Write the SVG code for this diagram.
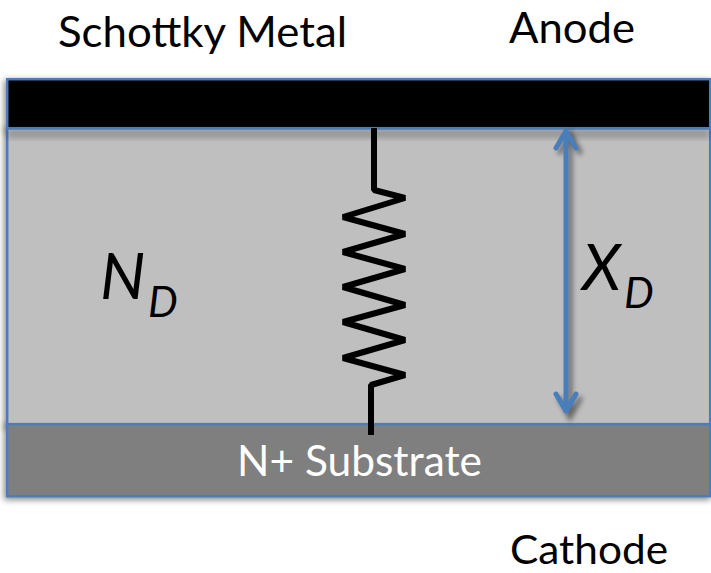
<svg xmlns="http://www.w3.org/2000/svg" width="711" height="573" viewBox="0 0 711 573">
<style>
.t{font-family:Lato,"Liberation Sans",sans-serif;fill:#000}
.layer{stroke:#4a7ebb;stroke-width:2.5}
.shadow{fill:#000;opacity:.45;filter:url(#b)}
.wire{fill:none;stroke:#000;stroke-width:6;stroke-linejoin:bevel}
.arrow{fill:none;stroke:#4a7ebb;stroke-width:5;stroke-linecap:round;stroke-linejoin:round}
</style>
<defs>
<filter id="b" x="-10%" y="-30%" width="120%" height="160%"><feGaussianBlur stdDeviation="3"/></filter>
<filter id="c" x="-100%" y="-10%" width="300%" height="120%"><feGaussianBlur stdDeviation="2.5"/></filter>
</defs>
<rect width="711" height="573" fill="#fff"/>
<g id="shadows">
<rect class="shadow" x="4" y="80" width="707" height="52"/>
<rect class="shadow" x="4" y="128" width="707" height="301" opacity=".3"/>
<rect class="shadow" x="4" y="424" width="707" height="76"/>
</g>
<g id="drift-region"><rect class="layer" x="7.2" y="128.2" width="703" height="296" fill="#bfbfbf"/></g>
<g id="top-shadow"><rect x="7" y="129" width="703" height="9" fill="#000" opacity=".22" filter="url(#b)"/></g>
<g id="schottky-metal"><rect class="layer" x="7.2" y="79.2" width="703" height="49" fill="#000"/></g>
<g id="substrate"><rect class="layer" x="7.2" y="424.2" width="703" height="72" fill="#7f7f7f"/>
<text x="237" y="476" textLength="245" lengthAdjust="spacingAndGlyphs" font-size="42" style="font-family:Lato,'Liberation Sans',sans-serif;fill:#fff">N+ Substrate</text></g>
<g id="labels">
<text class="t" x="58" y="47" textLength="289" lengthAdjust="spacingAndGlyphs" font-size="43">Schottky Metal</text>
<text class="t" x="509" y="43" textLength="126" lengthAdjust="spacingAndGlyphs" font-size="43">Anode</text>
<text class="t" x="510" y="564" textLength="158" lengthAdjust="spacingAndGlyphs" font-size="41">Cathode</text>
<text class="t" x="100" y="299" font-size="64" font-style="italic">N<tspan font-size="42" x="148" y="317">D</tspan></text>
<text class="t" x="582" y="290" font-size="64" font-style="italic">X<tspan font-size="42" x="624" y="308">D</tspan></text>
</g>
<g id="connectors">
<path class="wire" d="M374 128V190L405 198L343 217L405 234L343 252L405 269L343 287L405 305L343 322L405 340L343 358L405 375L371 385V435"/>
<g opacity=".45" filter="url(#c)"><path d="M570 134V415M559 154L570 134L581 154M559 397L570 417L581 397" fill="none" stroke="#000" stroke-width="5"/></g>
<path class="arrow" d="M566 131V411M556 148L566 131L576 148M556 394L566 411L576 394"/>
</g>
</svg>
